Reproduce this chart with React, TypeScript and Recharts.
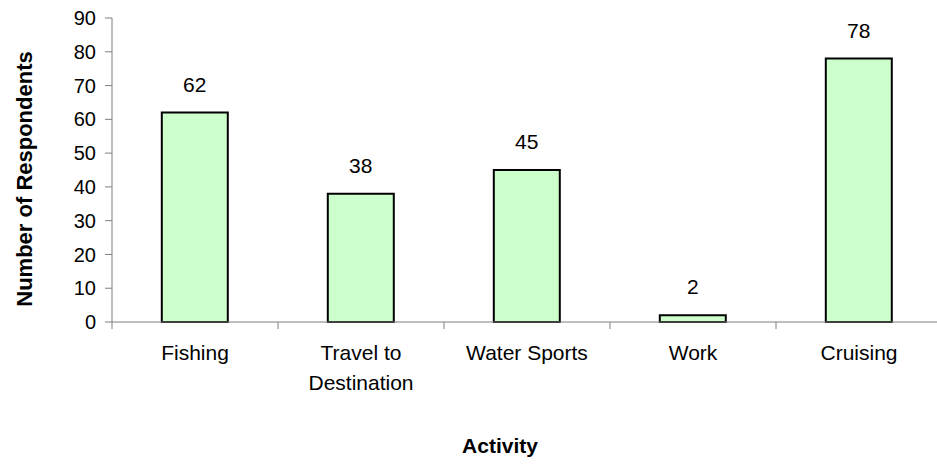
import React from "react";
import { BarChart, Bar, XAxis, YAxis, LabelList } from "recharts";

const categories = ["Fishing", "Travel to\nDestination", "Water Sports", "Work", "Cruising"];
const respondents = [62, 38, 45, 2, 78];
const yTicks = [0, 10, 20, 30, 40, 50, 60, 70, 80, 90];

const data = categories.map((c, i) => ({ activity: c, value: respondents[i] }));

const CHART_W = 942;
const CHART_H = 464;
const Y_AXIS_W = 112;
const MARGIN = { top: 18, right: 0, bottom: 0, left: 0 };
const FONT = "'Liberation Sans', Arial, sans-serif";
const AXIS_COLOR = "#7f7f7f";

const XTick = (props: any) => {
  const { x, y, payload, index } = props;
  const band = (CHART_W - Y_AXIS_W - MARGIN.left - MARGIN.right) / categories.length;
  const half = band / 2;
  const lines = String(payload.value).split("\n");
  const axisY = y - 8;
  return (
    <g>
      <line x1={x - half} y1={axisY} x2={x - half} y2={axisY + 7} stroke={AXIS_COLOR} strokeWidth={1} />
      {index === categories.length - 1 && (
        <line x1={x + half} y1={axisY} x2={x + half} y2={axisY + 7} stroke={AXIS_COLOR} strokeWidth={1} />
      )}
      <text x={x} y={axisY + 38} textAnchor="middle" fontFamily={FONT} fontSize={21} fill="#000">
        {lines.map((l, i) => (
          <tspan key={i} x={x} dy={i === 0 ? 0 : 30}>
            {l}
          </tspan>
        ))}
      </text>
    </g>
  );
};

export default function App() {
  return (
    <div style={{ position: "absolute", left: 0, top: 0, width: 937, height: 464, overflow: "hidden", background: "#fff" }}>
      <BarChart width={CHART_W} height={CHART_H} data={data} margin={MARGIN} barCategoryGap="30%">
        <XAxis
          dataKey="activity"
          height={142}
          axisLine={{ stroke: AXIS_COLOR }}
          tickLine={false}
          tick={<XTick />}
          interval={0}
        />
        <YAxis
          domain={[0, 90]}
          ticks={yTicks}
          width={Y_AXIS_W}
          axisLine={{ stroke: AXIS_COLOR }}
          tickLine={{ stroke: AXIS_COLOR }}
          tickSize={7}
          tickMargin={9}
          tick={{ fill: "#000", fontFamily: FONT, fontSize: 20 }}
        />
        <Bar dataKey="value" fill="#CCFFCC" stroke="#000" strokeWidth={2} isAnimationActive={false}>
          <LabelList dataKey="value" position="top" offset={21} fill="#000" fontFamily={FONT} fontSize={21} />
        </Bar>
        <text x={32} y={179} transform="rotate(-90 32 179)" textAnchor="middle" fontFamily={FONT} fontWeight="bold" fontSize={22} fill="#000">
          Number of Respondents
        </text>
        <text x={500} y={453} textAnchor="middle" fontFamily={FONT} fontWeight="bold" fontSize={21} fill="#000">
          Activity
        </text>
      </BarChart>
    </div>
  );
}
